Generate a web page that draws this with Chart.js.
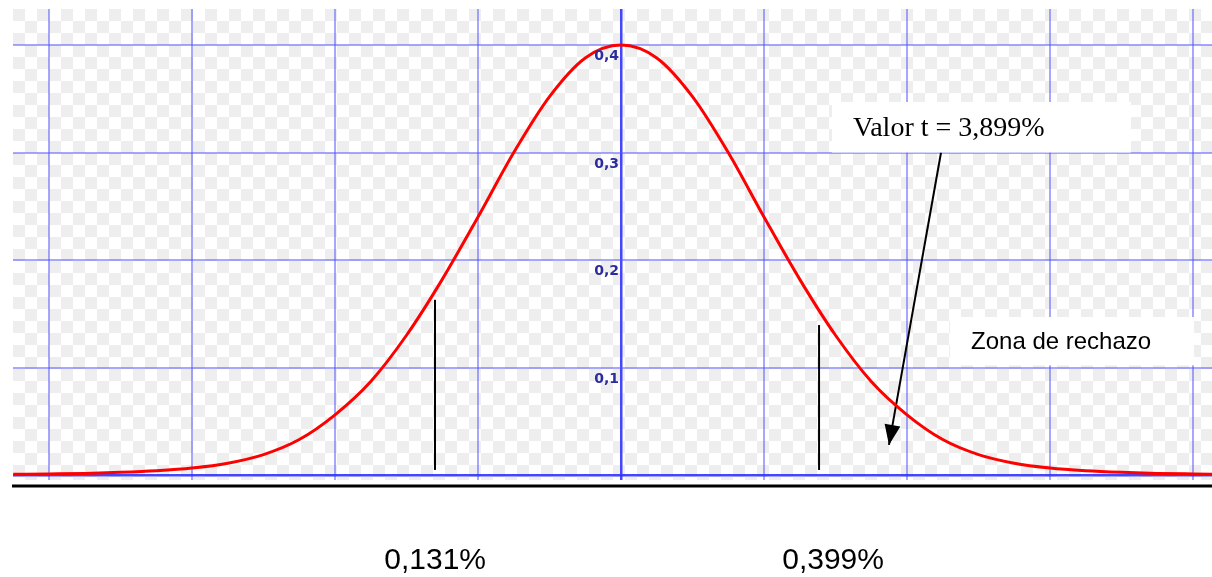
<!DOCTYPE html>
<html>
<head>
<meta charset="utf-8">
<script src="https://cdn.jsdelivr.net/npm/chart.js@4.4.1/dist/chart.umd.min.js"></script>
<style>
    html, body { margin: 0; padding: 0; background: #ffffff; }
    #wrap { width: 1212px; height: 577px; position: relative; }
</style>
</head>
<body>
<div id="wrap"><canvas id="tchart"></canvas></div>
<script>

    // curve (t value -> density)
    const tValues = [-4.25, -4, -3.75, -3.5, -3.25, -3, -2.75, -2.5, -2.25, -2, -1.75, -1.5, -1.25, -1, -0.75, -0.5, -0.25,
        0, 0.25, 0.5, 0.75, 1, 1.25, 1.5, 1.75, 2, 2.25, 2.5, 2.75, 3, 3.25, 3.5, 3.75, 4, 4.25];
    const density = [0.0006, 0.001, 0.0015, 0.0025, 0.004, 0.0065, 0.011, 0.019, 0.033, 0.056, 0.087, 0.130, 0.182, 0.240, 0.300, 0.352, 0.388,
        0.400, 0.388, 0.352, 0.300, 0.240, 0.182, 0.130, 0.087, 0.056, 0.033, 0.019, 0.011, 0.0065, 0.004, 0.0025, 0.0015, 0.001, 0.0006];

    const yTickLabels = ['0,1', '0,2', '0,3', '0,4'];
    const yTickValues = [0.1, 0.2, 0.3, 0.4];

    // critical value markers (x, top of line)
    const markX = [-1.301, 1.385];
    const markTop = [0.163, 0.1395];
    const markBottom = 0.0047;

    // labels under the axis
    const bottomLabels = ['0,131%', '0,399%'];
    const bottomLabelX = [-1.30, 1.483];

    // arrow from the "Valor t" note down to the tail
    const arrowFrom = {x: 2.238, y: 0.300};
    const arrowTo = {x: 1.874, y: 0.028};

    const notes = [
        {text: 'Valor t = 3,899%', x1: 1.476, x2: 3.566, y1: 0.347, y2: 0.300, font: '28px "Liberation Serif", "Times New Roman", serif'},
        {text: 'Zona de rechazo', x1: 2.301, x2: 4.007, y1: 0.147, y2: 0.102, font: '24px "Liberation Sans", Arial, sans-serif'}
    ];

    let curve = [];
    for (let i = 0; i < tValues.length; i++) {
        curve.push({x: tValues[i], y: density[i]});
    }

    const isGridValue = function (v, step) {
        let r = Math.round(v / step) * step;
        return Math.abs(v - r) < 1e-6;
    };

    const gridColor = function (step) {
        return function (ctx) {
            let v = ctx.tick.value;
            if (!isGridValue(v, step)) return 'rgba(0,0,0,0)';
            if (Math.abs(v) < 1e-9) return 'rgba(50,50,255,0.9)';
            return 'rgba(80,80,255,0.5)';
        };
    };

    const gridWidth = function (ctx) {
        return Math.abs(ctx.tick.value) < 1e-9 ? 2.5 : 2;
    };

    const decorPlugin = {
        id: 'decor',
        beforeDraw: function (chart) {
            // checkered background
            const ctx = chart.ctx;
            const a = chart.chartArea;
            const size = 12;
            ctx.save();
            ctx.fillStyle = '#ffffff';
            ctx.fillRect(a.left, a.top, a.right - a.left, a.bottom - a.top);
            ctx.fillStyle = '#eeeeee';
            for (let row = 0; a.top + row * size < a.bottom; row++) {
                for (let col = 0; a.left + col * size < a.right; col++) {
                    if ((row + col) % 2 === 0) {
                        let x = a.left + col * size;
                        let y = a.top + row * size;
                        ctx.fillRect(x, y, Math.min(size, a.right - x), Math.min(size, a.bottom - y));
                    }
                }
            }
            ctx.restore();
        },
        afterDatasetsDraw: function (chart) {
            const ctx = chart.ctx;
            const xs = chart.scales.x;
            const ys = chart.scales.y;
            const a = chart.chartArea;
            ctx.save();

            // y tick labels next to the centre axis
            ctx.font = 'bold 14px "DejaVu Sans", sans-serif';
            ctx.fillStyle = '#2c2ca0';
            ctx.textAlign = 'right';
            ctx.textBaseline = 'middle';
            let x0 = xs.getPixelForValue(0);
            for (let i = 0; i < yTickLabels.length; i++) {
                ctx.fillText(yTickLabels[i], x0 - 2, ys.getPixelForValue(yTickValues[i]) + 11.5);
            }

            // arrow head
            let fx = xs.getPixelForValue(arrowFrom.x), fy = ys.getPixelForValue(arrowFrom.y);
            let tx = xs.getPixelForValue(arrowTo.x), ty = ys.getPixelForValue(arrowTo.y);
            let ang = Math.atan2(ty - fy, tx - fx);
            let len = 20, half = 8;
            let bx = tx - len * Math.cos(ang), by = ty - len * Math.sin(ang);
            ctx.fillStyle = '#000000';
            ctx.beginPath();
            ctx.moveTo(tx, ty);
            ctx.lineTo(bx + half * Math.sin(ang), by - half * Math.cos(ang));
            ctx.lineTo(bx - half * Math.sin(ang), by + half * Math.cos(ang));
            ctx.closePath();
            ctx.fill();

            // note boxes
            for (let i = 0; i < notes.length; i++) {
                let n = notes[i];
                let l = xs.getPixelForValue(n.x1), r = xs.getPixelForValue(n.x2);
                let t = ys.getPixelForValue(n.y1), b = ys.getPixelForValue(n.y2);
                ctx.fillStyle = '#ffffff';
                ctx.fillRect(l, t, r - l, b - t);
                ctx.fillStyle = '#000000';
                ctx.font = n.font;
                ctx.textAlign = 'left';
                ctx.textBaseline = 'middle';
                ctx.fillText(n.text, l + 21, (t + b) / 2 + 1);
            }

            // black base line under the chart
            ctx.strokeStyle = '#000000';
            ctx.lineWidth = 3;
            ctx.beginPath();
            ctx.moveTo(a.left - 1, a.bottom + 6);
            ctx.lineTo(chart.width, a.bottom + 6);
            ctx.stroke();

            // labels under the base line
            ctx.font = '30px "Liberation Sans", Arial, sans-serif';
            ctx.textAlign = 'center';
            ctx.textBaseline = 'alphabetic';
            for (let i = 0; i < bottomLabels.length; i++) {
                ctx.fillText(bottomLabels[i], xs.getPixelForValue(bottomLabelX[i]), a.bottom + 89);
            }
            ctx.restore();
        }
    };

    let datasets = [{
        data: curve,
        showLine: true,
        borderColor: '#ff0000',
        borderWidth: 3,
        pointRadius: 0,
        cubicInterpolationMode: 'monotone'
    }];

    for (let i = 0; i < markX.length; i++) {
        datasets.push({
            data: [{x: markX[i], y: markBottom}, {x: markX[i], y: markTop[i]}],
            showLine: true,
            borderColor: '#000000',
            borderWidth: 2,
            pointRadius: 0
        });
    }

    datasets.push({
        data: [arrowFrom, arrowTo],
        showLine: true,
        borderColor: '#000000',
        borderWidth: 2,
        pointRadius: 0
    });

    const CONFIG = {
        type: 'scatter',
        data: {datasets: datasets},
        options: {
            responsive: true,
            maintainAspectRatio: false,
            animation: false,
            devicePixelRatio: 1,
            layout: {padding: {left: 13, right: 0, top: 9, bottom: 97}},
            plugins: {legend: {display: false}, tooltip: {enabled: false}},
            scales: {
                x: {
                    type: 'linear',
                    min: -4.252,
                    max: 4.133,
                    ticks: {display: false, stepSize: 1, includeBounds: false},
                    border: {display: false},
                    grid: {color: gridColor(1), lineWidth: gridWidth, drawTicks: false}
                },
                y: {
                    type: 'linear',
                    min: -0.00465,
                    max: 0.4335,
                    ticks: {display: false, stepSize: 0.1, includeBounds: false},
                    border: {display: false},
                    grid: {color: gridColor(0.1), lineWidth: gridWidth, drawTicks: false}
                }
            }
        },
        plugins: [decorPlugin]
    };

    const t_chart = new Chart(document.querySelector('#tchart'), CONFIG);

</script>
</body>
</html>
